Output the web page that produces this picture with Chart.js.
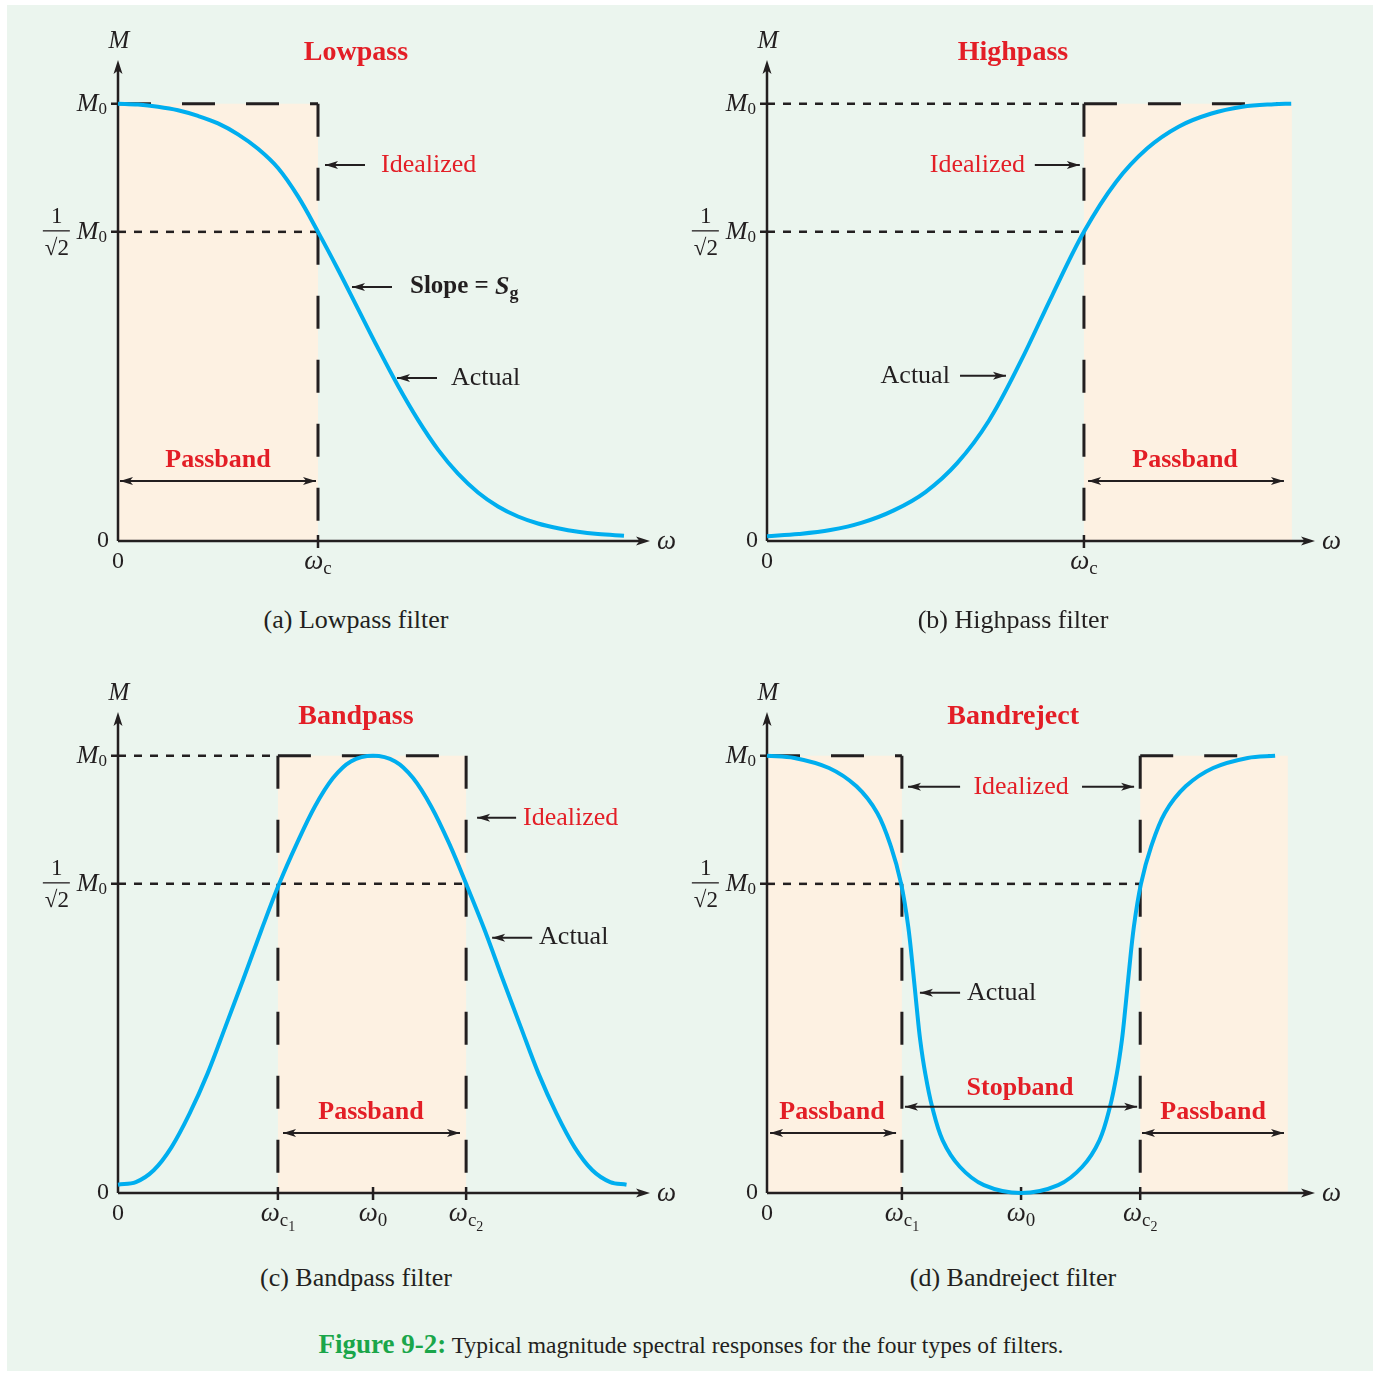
<!DOCTYPE html>
<html>
<head>
<meta charset="utf-8">
<script src="https://cdn.jsdelivr.net/npm/chart.js@4.4.0/dist/chart.umd.min.js"></script>
<style>
  body { margin: 0; background: #fff; width: 1378px; height: 1374px; position: relative; overflow: hidden;
         font-family: "Liberation Serif", "Times New Roman", serif; color: #231F20; }
  #frame { position: absolute; left: 7px; top: 5px; width: 1366px; height: 1366px; background: #EBF5EE; }
  .panel { position: absolute; }
  .cap { position: absolute; width: 600px; text-align: center; font-size: 26px; line-height: 30px; }
  #fig { position: absolute; left: 0; top: 1329px; width: 1382px; text-align: center; font-size: 23.5px; line-height: 30px; }
  #fig b { color: #1AA64A; font-size: 27px; }
</style>
</head>
<body>
<div id="frame"></div>
<canvas id="lowpass" class="panel" width="680" height="580" style="left:8px;top:20px"></canvas>
<canvas id="highpass" class="panel" width="710" height="580" style="left:657px;top:20px"></canvas>
<canvas id="bandpass" class="panel" width="680" height="580" style="left:8px;top:672px"></canvas>
<canvas id="bandreject" class="panel" width="710" height="580" style="left:657px;top:672px"></canvas>

<div class="cap" style="left:56px;top:605px">(a) Lowpass filter</div>
<div class="cap" style="left:713px;top:605px">(b) Highpass filter</div>
<div class="cap" style="left:56px;top:1263px">(c) Bandpass filter</div>
<div class="cap" style="left:713px;top:1263px">(d) Bandreject filter</div>
<div id="fig"><b>Figure 9-2:</b> Typical magnitude spectral responses for the four types of filters.</div>

<script>
// curves: omega (normalised) and M / M0
const lowW  = [0, 0.1, 0.2, 0.3, 0.4, 0.5, 0.6, 0.7, 0.8, 0.9, 1.0, 1.1, 1.2, 1.3, 1.4, 1.5, 1.6, 1.7, 1.8, 1.9, 2.0, 2.1, 2.2, 2.3, 2.4, 2.53];
const lowM  = [1.0, 0.998, 0.993, 0.985, 0.972, 0.955, 0.930, 0.897, 0.853, 0.788, 0.707, 0.621, 0.531, 0.441, 0.355, 0.277,
               0.209, 0.154, 0.111, 0.079, 0.056, 0.040, 0.029, 0.021, 0.016, 0.012];

const highW = [0, 0.1, 0.2, 0.3, 0.4, 0.5, 0.6, 0.7, 0.8, 0.9, 1.0, 1.1, 1.2, 1.3, 1.4, 1.5, 1.6, 1.654];
const highM = [0.011, 0.016, 0.025, 0.042, 0.070, 0.112, 0.178, 0.275, 0.410, 0.562, 0.707, 0.820, 0.898, 0.948, 0.977, 0.993, 0.999, 1.0];

const bandW = [0, 0.07, 0.14, 0.21, 0.281, 0.351, 0.421, 0.492, 0.562, 0.632, 0.702, 0.772, 0.843, 0.913, 1.0,
               1.087, 1.157, 1.228, 1.298, 1.365, 1.438, 1.508, 1.579, 1.649, 1.719, 1.79, 1.86, 1.93, 1.994];
const bandM = [0.019, 0.025, 0.052, 0.105, 0.182, 0.273, 0.38, 0.49, 0.601, 0.707, 0.8, 0.884, 0.949, 0.987, 1.0,
               0.987, 0.949, 0.884, 0.8, 0.707, 0.601, 0.49, 0.38, 0.273, 0.182, 0.105, 0.052, 0.025, 0.019];

const rejW  = [0, 0.108, 0.244, 0.352, 0.434, 0.488, 0.528, 0.556, 0.576, 0.589, 0.603, 0.623, 0.65, 0.691, 0.759, 0.854, 1.0,
               1.146, 1.241, 1.309, 1.35, 1.377, 1.397, 1.411, 1.424, 1.444, 1.472, 1.512, 1.566, 1.648, 1.756, 1.892, 2.0];
const rejM  = [1.0, 0.995, 0.972, 0.93, 0.869, 0.792, 0.707, 0.609, 0.502, 0.426, 0.35, 0.273, 0.197, 0.121, 0.06, 0.018, 0.0,
               0.018, 0.06, 0.121, 0.197, 0.273, 0.35, 0.426, 0.502, 0.609, 0.707, 0.792, 0.869, 0.93, 0.972, 0.995, 1.0];

// tick positions and labels on the omega axis ("_" marks a subscript)
const lowTicks  = [0, 1];        const lowTickLabels  = ['0', 'ω_c'];
const highTicks = [0, 1];        const highTickLabels = ['0', 'ω_c'];
const bandTicks = [0, 0.627, 1, 1.365]; const bandTickLabels = ['0', 'ω_c_1', 'ω_0', 'ω_c_2'];
const rejTicks  = [0, 0.531, 1, 1.469]; const rejTickLabels  = ['0', 'ω_c_1', 'ω_0', 'ω_c_2'];

// levels on the M axis
const levels = [1, 0.707];

const RED = '#E31E26', INK = '#231F20', BLUE = '#00AEEF', PEACH = '#FDF1E2';
const SERIF = '"Liberation Serif", "Times New Roman", serif';

// per panel drawing spec (in data units)
const specs = {
  lowpass: {
    xMax: 2.66, padRight: 38, title: ['Lowpass', 1.19, 1.117],
    ticks: lowTicks, tickLabels: lowTickLabels,
    shade: [[0, 1]],
    longH: [[0, 1]], longV: [1], shortTop: null, shortHalf: 1,
    notes: [
      { k: 'arrow', a: [1.235, 0.86], b: [1.035, 0.86] },
      { k: 'text', at: [1.315, 0.86], s: 'Idealized', color: RED },
      { k: 'arrow', a: [1.37, 0.581], b: [1.17, 0.581] },
      { k: 'slope', at: [1.46, 0.581] },
      { k: 'arrow', a: [1.595, 0.373], b: [1.395, 0.373] },
      { k: 'text', at: [1.665, 0.373], s: 'Actual', color: INK },
      { k: 'both', a: [0.01, 0.137], b: [0.99, 0.137] },
      { k: 'bold', at: [0.5, 0.185], s: 'Passband' }
    ]
  },
  highpass: {
    xMax: 1.729, padRight: 52, title: ['Highpass', 0.776, 1.117],
    ticks: highTicks, tickLabels: highTickLabels,
    shade: [[1, 1.656]],
    longH: [[1, 1.62]], longV: [1], shortTop: 1, shortHalf: 1,
    notes: [
      { k: 'text', at: [0.814, 0.86], s: 'Idealized', color: RED, align: 'right' },
      { k: 'arrow', a: [0.845, 0.86], b: [0.987, 0.86] },
      { k: 'text', at: [0.577, 0.378], s: 'Actual', color: INK, align: 'right' },
      { k: 'arrow', a: [0.609, 0.378], b: [0.754, 0.378] },
      { k: 'both', a: [1.013, 0.137], b: [1.631, 0.137] },
      { k: 'bold', at: [1.319, 0.185], s: 'Passband' }
    ]
  },
  bandpass: {
    xMax: 2.086, padRight: 38, title: ['Bandpass', 0.933, 1.089],
    ticks: bandTicks, tickLabels: bandTickLabels,
    shade: [[0.627, 1.365]],
    longH: [[0.627, 1.365]], longV: [0.627, 1.365], shortTop: 0.627, shortHalf: 1.365,
    notes: [
      { k: 'arrow', a: [1.561, 0.858], b: [1.408, 0.858] },
      { k: 'text', at: [1.588, 0.858], s: 'Idealized', color: RED },
      { k: 'arrow', a: [1.624, 0.584], b: [1.467, 0.584] },
      { k: 'text', at: [1.651, 0.584], s: 'Actual', color: INK },
      { k: 'both', a: [0.647, 0.137], b: [1.341, 0.137] },
      { k: 'bold', at: [0.992, 0.185], s: 'Passband' }
    ]
  },
  bandreject: {
    xMax: 2.157, padRight: 52, title: ['Bandreject', 0.969, 1.089],
    ticks: rejTicks, tickLabels: rejTickLabels,
    shade: [[0, 0.531], [1.469, 2.05]],
    longH: [[0, 0.531], [1.469, 1.98]], longV: [0.531, 1.469], shortTop: null, shortHalf: 1.469,
    notes: [
      { k: 'arrow', a: [0.76, 0.929], b: [0.555, 0.929] },
      { k: 'text', at: [1.0, 0.929], s: 'Idealized', color: RED, align: 'center' },
      { k: 'arrow', a: [1.24, 0.929], b: [1.445, 0.929] },
      { k: 'arrow', a: [0.76, 0.458], b: [0.602, 0.458] },
      { k: 'text', at: [0.787, 0.458], s: 'Actual', color: INK },
      { k: 'both', a: [0.543, 0.197], b: [1.457, 0.197] },
      { k: 'bold', at: [0.996, 0.24], s: 'Stopband' },
      { k: 'both', a: [0.012, 0.137], b: [0.508, 0.137] },
      { k: 'bold', at: [0.256, 0.185], s: 'Passband' },
      { k: 'both', a: [1.476, 0.137], b: [2.035, 0.137] },
      { k: 'bold', at: [1.756, 0.185], s: 'Passband' }
    ]
  }
};

function head(ctx, x, y, ang, len, hw) {
  ctx.save();
  ctx.translate(x, y);
  ctx.rotate(ang);
  ctx.beginPath();
  ctx.moveTo(0, 0);
  ctx.lineTo(-len, -hw);
  ctx.lineTo(-len * 0.75, 0);
  ctx.lineTo(-len, hw);
  ctx.closePath();
  ctx.fill();
  ctx.restore();
}

function arrow(ctx, x0, y0, x1, y1, both) {
  const ang = Math.atan2(y1 - y0, x1 - x0);
  ctx.beginPath();
  ctx.moveTo(x0, y0);
  ctx.lineTo(x1, y1);
  ctx.stroke();
  head(ctx, x1, y1, ang, 13, 4);
  if (both) head(ctx, x0, y0, ang + Math.PI, 13, 4);
}

// omega-type label with subscripts, centred on cx
function omegaLabel(ctx, label, cx, cy) {
  const parts = label.split('_');
  const fonts = ['italic 27px ' + SERIF, '19px ' + SERIF, '14px ' + SERIF];
  const drops = [0, 7, 13];
  if (parts[0] === '0') fonts[0] = '24px ' + SERIF;
  let w = 0;
  const widths = parts.map((p, i) => { ctx.font = fonts[i]; const m = ctx.measureText(p).width; w += m; return m; });
  let x = cx - w / 2;
  parts.forEach((p, i) => {
    ctx.font = fonts[i];
    ctx.fillText(p, x, cy + drops[i]);
    x += widths[i];
  });
}

// "M0" ending at xEnd
function mZero(ctx, xEnd, cy) {
  ctx.font = '17px ' + SERIF;
  const w0 = ctx.measureText('0').width;
  ctx.font = 'italic 26px ' + SERIF;
  const wm = ctx.measureText('M').width;
  ctx.fillText('M', xEnd - w0 - wm, cy);
  ctx.font = '17px ' + SERIF;
  ctx.fillText('0', xEnd - w0, cy + 6);
  return xEnd - w0 - wm;
}

const decor = {
  id: 'decor',
  beforeDatasetsDraw(chart) {
    const p = specs[chart.canvas.id];
    const { ctx, scales: { x, y } } = chart;
    const X = v => x.getPixelForValue(v), Y = v => y.getPixelForValue(v);
    ctx.save();
    ctx.fillStyle = PEACH;
    p.shade.forEach(([a, b]) => ctx.fillRect(X(a), Y(1), X(b) - X(a), Y(0) - Y(1)));

    ctx.strokeStyle = INK;
    // short dashes
    ctx.lineWidth = 2.5;
    ctx.setLineDash([8, 8]);
    ctx.beginPath();
    ctx.moveTo(X(0), Y(levels[1]));
    ctx.lineTo(X(p.shortHalf), Y(levels[1]));
    if (p.shortTop !== null) {
      ctx.moveTo(X(0), Y(levels[0]));
      ctx.lineTo(X(p.shortTop), Y(levels[0]));
    }
    ctx.stroke();

    // idealized response, long dashes
    ctx.lineWidth = 3;
    ctx.setLineDash([33, 31]);
    p.longH.forEach(([a, b]) => {
      ctx.beginPath(); ctx.moveTo(X(a), Y(levels[0])); ctx.lineTo(X(b), Y(levels[0])); ctx.stroke();
    });
    p.longV.forEach(v => {
      ctx.beginPath(); ctx.moveTo(X(v), Y(levels[0])); ctx.lineTo(X(v), Y(0)); ctx.stroke();
    });
    ctx.setLineDash([]);

    // axes with arrow heads
    ctx.fillStyle = INK;
    ctx.lineWidth = 2.5;
    ctx.beginPath();
    ctx.moveTo(X(0), Y(0)); ctx.lineTo(X(0), Y(1.1) + 6);
    ctx.moveTo(X(0), Y(0)); ctx.lineTo(X(x.max) - 6, Y(0));
    ctx.stroke();
    head(ctx, X(0), Y(1.1), -Math.PI / 2, 14, 4.5);
    head(ctx, X(x.max), Y(0), 0, 14, 4.5);

    // tick marks
    ctx.lineWidth = 2.5;
    ctx.beginPath();
    levels.forEach(l => { ctx.moveTo(X(0) - 7, Y(l)); ctx.lineTo(X(0), Y(l)); });
    p.ticks.forEach(t => { if (t > 0) { ctx.moveTo(X(t), Y(0) - 6); ctx.lineTo(X(t), Y(0) + 7); } });
    ctx.stroke();
    ctx.restore();
  },
  afterDatasetsDraw(chart) {
    const p = specs[chart.canvas.id];
    const { ctx, scales: { x, y } } = chart;
    const X = v => x.getPixelForValue(v), Y = v => y.getPixelForValue(v);
    ctx.save();
    ctx.textBaseline = 'middle';
    ctx.fillStyle = INK;
    ctx.strokeStyle = INK;

    // axis names
    ctx.textAlign = 'center';
    ctx.font = 'italic 25px ' + SERIF;
    ctx.fillText('M', X(0) + 1, Y(1.1) - 19);
    ctx.textAlign = 'left';
    ctx.font = 'italic 27px ' + SERIF;
    ctx.fillText('ω', X(x.max) + 7, Y(0) + 1);

    // M axis labels
    ctx.textAlign = 'left';
    mZero(ctx, X(0) - 11, Y(levels[0]));
    const left = mZero(ctx, X(0) - 11, Y(levels[1]));
    ctx.textAlign = 'center';
    ctx.font = '23px ' + SERIF;
    const fx = left - 20;
    ctx.fillText('1', fx, Y(levels[1]) - 15);
    ctx.fillText('√2', fx, Y(levels[1]) + 17);
    ctx.lineWidth = 1.3;
    ctx.beginPath();
    ctx.moveTo(fx - 14, Y(levels[1]) - 1); ctx.lineTo(fx + 13, Y(levels[1]) - 1);
    ctx.stroke();
    ctx.textAlign = 'right';
    ctx.font = '24px ' + SERIF;
    ctx.fillText('0', X(0) - 9, Y(0));

    // omega axis labels
    ctx.textAlign = 'left';
    p.ticks.forEach((t, i) => omegaLabel(ctx, p.tickLabels[i], X(t), Y(0) + 21));

    // title
    ctx.textAlign = 'center';
    ctx.fillStyle = RED;
    ctx.font = 'bold 28px ' + SERIF;
    ctx.fillText(p.title[0], X(p.title[1]), Y(p.title[2]));

    // annotations
    ctx.lineWidth = 2;
    p.notes.forEach(n => {
      if (n.k === 'arrow' || n.k === 'both') {
        ctx.fillStyle = INK;
        arrow(ctx, X(n.a[0]), Y(n.a[1]), X(n.b[0]), Y(n.b[1]), n.k === 'both');
      } else if (n.k === 'text') {
        ctx.fillStyle = n.color;
        ctx.textAlign = n.align || 'left';
        ctx.font = '26px ' + SERIF;
        ctx.fillText(n.s, X(n.at[0]), Y(n.at[1]));
      } else if (n.k === 'bold') {
        ctx.fillStyle = RED;
        ctx.textAlign = 'center';
        ctx.font = 'bold 26px ' + SERIF;
        ctx.fillText(n.s, X(n.at[0]), Y(n.at[1]));
      } else if (n.k === 'slope') {
        ctx.fillStyle = INK;
        ctx.textAlign = 'left';
        let sx = X(n.at[0]);
        const sy = Y(n.at[1]);
        ctx.font = 'bold 25px ' + SERIF;
        ctx.fillText('Slope = ', sx, sy);
        sx += ctx.measureText('Slope = ').width;
        ctx.font = 'italic bold 26px ' + SERIF;
        ctx.fillText('S', sx, sy);
        sx += ctx.measureText('S').width;
        ctx.font = 'bold 18px ' + SERIF;
        ctx.fillText('g', sx, sy + 7);
      }
    });
    ctx.restore();
  }
};

function makeChart(id, W, M) {
  const p = specs[id];
  return new Chart(document.getElementById(id), {
    type: 'line',
    data: {
      datasets: [{
        data: W.map((w, i) => ({ x: w, y: M[i] })),
        borderColor: BLUE,
        borderWidth: 4,
        pointRadius: 0,
        tension: 0.35,
        clip: false
      }]
    },
    options: {
      responsive: false,
      animation: false,
      events: [],
      layout: { padding: { left: 110, top: 40, right: p.padRight, bottom: 59 } },
      plugins: { legend: { display: false }, tooltip: { enabled: false } },
      scales: {
        x: { type: 'linear', display: false, min: 0, max: p.xMax },
        y: { type: 'linear', display: false, min: 0, max: 1.1 }
      }
    },
    plugins: [decor]
  });
}

makeChart('lowpass', lowW, lowM);
makeChart('highpass', highW, highM);
makeChart('bandpass', bandW, bandM);
makeChart('bandreject', rejW, rejM);
</script>
</body>
</html>
